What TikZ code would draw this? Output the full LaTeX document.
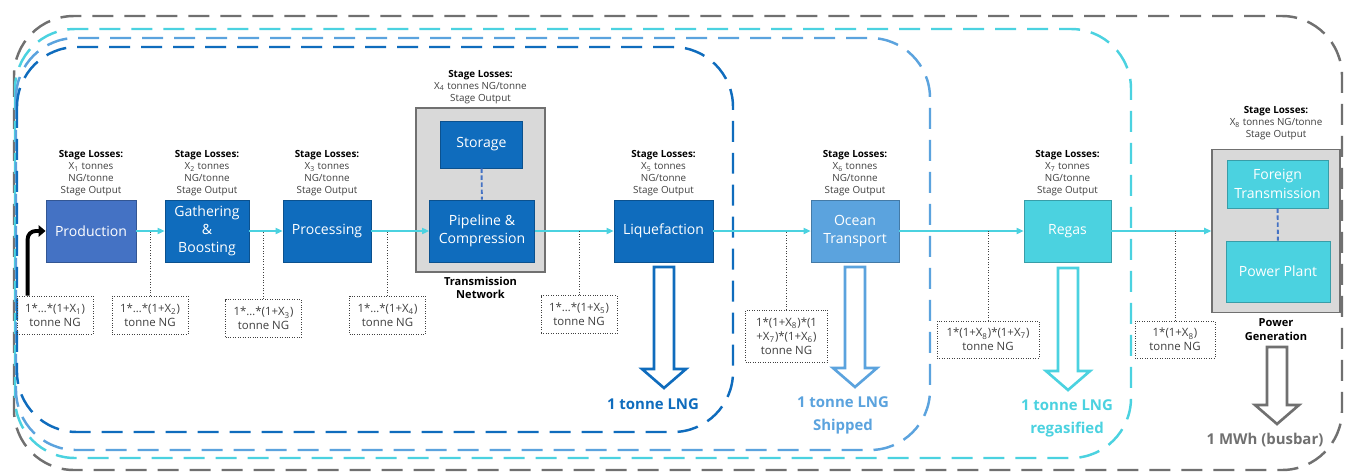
\documentclass[tikz,border=0pt]{standalone}
\usepackage{fontspec}
\setmainfont{Open Sans}
\usetikzlibrary{positioning,arrows.meta}
\definecolor{dkblue}{HTML}{0F6CBD}
\definecolor{prodblue}{HTML}{4472C4}
\definecolor{midblue}{HTML}{5BA3DE}
\definecolor{aqua}{HTML}{4BD2E0}
\definecolor{edge}{HTML}{707070}
\definecolor{panel}{HTML}{D9D9D9}
\definecolor{muted}{HTML}{404040}
% hollow down arrow: colour, centre x, top y, tip y
\newcommand{\blockdown}[4]{%
  \draw[hollow,draw=#1] (#2-10,#3) -- (#2+10,#3) -- (#2+10,#4-19) -- (#2+22,#4-19)
    -- (#2,#4) -- (#2-22,#4-19) -- (#2-10,#4-19) -- cycle;}

\begin{document}
\begin{tikzpicture}[x=0.02cm,y=-0.02cm,
  stagebox/.style={draw=#1!75!black,fill=#1,text=white,font=\fontsize{8}{10.4}\selectfont,align=center,inner sep=1pt,line width=0.5pt},
  groupbox/.style={draw=edge,fill=panel,line width=0.9pt},
  grouplabel/.style={font=\fontsize{6.3}{7.9}\selectfont\bfseries,align=center,inner sep=1pt},
  loss/.style={font=\fontsize{5.6}{6.8}\selectfont,text=muted,align=center,inner sep=1pt},
  ngbox/.style={draw=muted,densely dotted,font=\fontsize{6.5}{7.9}\selectfont,text=muted,align=center,inner sep=1pt,minimum width=1.52cm,minimum height=0.76cm},
  flow/.style={aqua,line width=0.6pt,-{Triangle[length=4pt,width=3.6pt]}},
  feed/.style={black,line width=2.2pt,rounded corners=0.16cm,-{Triangle[length=4pt,width=6.5pt]}},
  tap/.style={muted,densely dotted,line width=0.5pt},
  link/.style={prodblue,line width=1.1pt,dash pattern=on 2.5pt off 1.5pt},
  zone/.style={line width=1.4pt,dash pattern=on 0.42cm off 0.22cm,rounded corners=1.2cm},
  yield/.style={font=\fontsize{8.5}{13}\selectfont\bfseries,align=center,inner sep=1pt},
  hollow/.style={line width=1.5pt,fill=white,line join=miter}]
\fill[white] (0,0) rectangle (1345,474);
\useasboundingbox (0,0) rectangle (1345,474);

% value chain boundaries
\draw[zone,edge] (14,16) rectangle (1342,470);
\draw[zone,aqua] (15,29) rectangle (1131,458);
\draw[zone,midblue] (16,38) rectangle (930,450);
\draw[zone,dkblue] (17,47) rectangle (733,432);

% stages
\node[stagebox=prodblue,minimum width=1.8cm,minimum height=1.24cm] (prod) at (91,231) {Production};
\node[stagebox=dkblue,minimum width=1.68cm,minimum height=1.24cm] (gath) at (207,231) {Gathering\\\&\\Boosting};
\node[stagebox=dkblue,minimum width=1.76cm,minimum height=1.24cm] (proc) at (327,231) {Processing};
\node[groupbox,minimum width=2.58cm,minimum height=3.28cm] (trans) at (480.5,190) {};
\node[stagebox=dkblue,minimum width=1.64cm,minimum height=0.94cm] (stor) at (481.5,144.5) {Storage};
\node[stagebox=dkblue,minimum width=2.1cm,minimum height=1.24cm] (pipe) at (482,231) {Pipeline \&\\Compression};
\node[stagebox=dkblue,minimum width=1.98cm,minimum height=1.24cm] (liq) at (663.5,231) {Liquefaction};
\node[stagebox=midblue,minimum width=1.76cm,minimum height=1.24cm] (ocean) at (855,231) {Ocean\\Transport};
\node[stagebox=aqua,minimum width=1.74cm,minimum height=1.24cm] (regas) at (1067.5,231) {Regas};
\node[groupbox,minimum width=2.56cm,minimum height=3.26cm] (powgen) at (1276,231) {};
\node[stagebox=aqua,minimum width=2.02cm,minimum height=0.96cm] (fortr) at (1277.5,184) {Foreign\\Transmission};
\node[stagebox=aqua,minimum width=2.08cm,minimum height=1.22cm] (plant) at (1278,271.5) {Power Plant};
\draw[link] (stor) -- (pipe);
\draw[link] (fortr) -- (plant);
\node[grouplabel,below=1pt of trans] (transl) {Transmission\\Network};
\node[grouplabel,below=2pt of powgen] (powgenl) {Power\\Generation};

% stage losses
\node[loss,above=1pt of prod] (s1) {\textcolor{black}{\bfseries Stage Losses:}\\X\textsubscript{1} tonnes\\NG/tonne\\Stage Output};
\node[loss,above=1pt of gath] (s2) {\textcolor{black}{\bfseries Stage Losses:}\\X\textsubscript{2} tonnes\\NG/tonne\\Stage Output};
\node[loss,above=1pt of proc] (s3) {\textcolor{black}{\bfseries Stage Losses:}\\X\textsubscript{3} tonnes\\NG/tonne\\Stage Output};
\node[loss,above=1pt of trans] (s4) {\textcolor{black}{\bfseries Stage Losses:}\\X\textsubscript{4} tonnes NG/tonne\\Stage Output};
\node[loss,above=1pt of liq] (s5) {\textcolor{black}{\bfseries Stage Losses:}\\X\textsubscript{5} tonnes\\NG/tonne\\Stage Output};
\node[loss,above=1pt of ocean] (s6) {\textcolor{black}{\bfseries Stage Losses:}\\X\textsubscript{6} tonnes\\NG/tonne\\Stage Output};
\node[loss,above=1pt of regas] (s7) {\textcolor{black}{\bfseries Stage Losses:}\\X\textsubscript{7} tonnes\\NG/tonne\\Stage Output};
\node[loss,above=4pt of powgen] (s8) {\textcolor{black}{\bfseries Stage Losses:}\\X\textsubscript{8} tonnes NG/tonne\\Stage Output};

% gas flow
\draw[flow] (prod) -- (gath);
\draw[flow] (gath) -- (proc);
\draw[flow] (proc) -- (pipe);
\draw[flow] (pipe) -- (liq);
\draw[flow] (liq) -- (ocean);
\draw[flow] (ocean) -- (regas);
\draw[flow] (regas) -- (powgen);

% NG required per stage
\node[ngbox] (l1) at (55,315) {1*…*(1+X\textsubscript{1})\\tonne NG};
\node[ngbox] (l2) at (150,315) {1*…*(1+X\textsubscript{2})\\tonne NG};
\node[ngbox] (l3) at (263.5,318.5) {1*…*(1+X\textsubscript{3})\\tonne NG};
\node[ngbox] (l4) at (387.5,315) {1*…*(1+X\textsubscript{4})\\tonne NG};
\node[ngbox] (l5) at (579,314.5) {1*…*(1+X\textsubscript{5})\\tonne NG};
\node[ngbox,minimum width=1.64cm,minimum height=1.04cm] (l6) at (786.5,336) {1*(1+X\textsubscript{8})*(1\\+X\textsubscript{7})*(1+X\textsubscript{6})\\tonne NG};
\node[ngbox,minimum width=2.04cm,minimum height=0.74cm] (l7) at (988,339.5) {1*(1+X\textsubscript{8})*(1+X\textsubscript{7})\\tonne NG};
\node[ngbox,minimum width=1.6cm,minimum height=0.74cm] (l8) at (1175,339.5) {1*(1+X\textsubscript{8})\\tonne NG};
\draw[feed] ([xshift=0.22cm]l1.north west) |- (prod.west);
\draw[tap] (l2.north) -- (l2.north |- prod.east);
\draw[tap] (l3.north) -- (l3.north |- proc.east);
\draw[tap] (l4.north) -- (l4.north |- proc.east);
\draw[tap] (l5.north) -- (l5.north |- liq.west);
\draw[tap] (l6.north) -- (l6.north |- liq.east);
\draw[tap] (l7.north) -- (l7.north |- regas.west);
\draw[tap] (l8.north) -- (l8.north |- regas.east);

% outputs
\blockdown{dkblue}{664}{267}{388}
\blockdown{midblue}{855}{267}{387}
\blockdown{aqua}{1068}{268}{390}
\blockdown{edge}{1277}{347}{424}
\node[yield,text=dkblue] (r1) at (653,404) {1 tonne LNG};
\node[yield,text=midblue] (r2) at (843,415) {1 tonne LNG\\Shipped};
\node[yield,text=aqua] (r3) at (1067,418) {1 tonne LNG\\regasified};
\node[yield,text=edge] (r4) at (1265,440) {1 MWh (busbar)};
\end{tikzpicture}
\end{document}
